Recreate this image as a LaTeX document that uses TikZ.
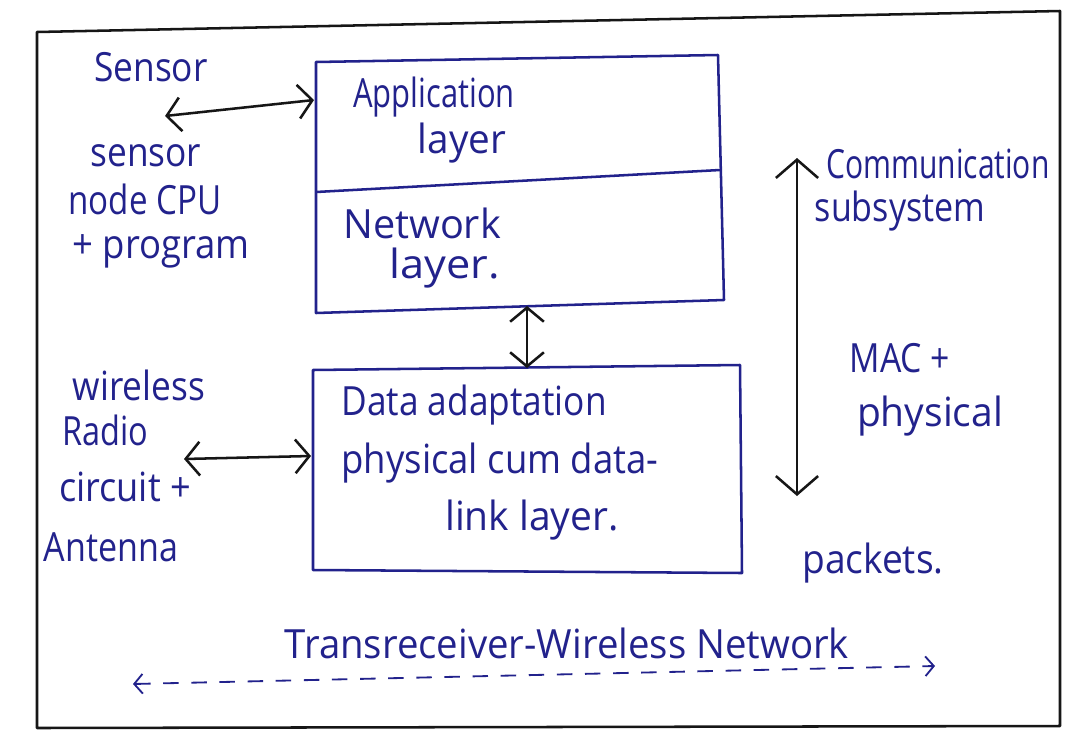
\documentclass[tikz,border=0pt]{standalone}
\usepackage{fontspec}
\usepackage{graphicx}
\setmainfont{Open Sans}
\usetikzlibrary{arrows.meta}
\definecolor{ink}{RGB}{34,34,140}
\definecolor{pencil}{RGB}{22,22,22}
% tall handwriting-like lettering, optional horizontal stretch
\newcommand{\hw}[2][1]{\scalebox{#1}[1.3]{#2}}
\begin{document}
\begin{tikzpicture}[x=0.025cm,y=-0.025cm,
  hand/.style={text=ink,font=\fontsize{22}{26}\selectfont,inner sep=0pt},
  frameline/.style={draw=pencil,line width=1.8pt,line join=round},
  boxline/.style={draw=ink,line width=1.8pt,line join=round},
  link/.style={draw=pencil,line width=1.8pt,{Straight Barb[length=10pt,width=24pt]}-{Straight Barb[length=10pt,width=24pt]}},
  biglink/.style={draw=pencil,line width=1.8pt,{Straight Barb[length=13pt,width=30pt]}-{Straight Barb[length=13pt,width=30pt]}},
  dashlink/.style={draw=ink,line width=1.3pt,dash pattern=on 11pt off 9pt,
    {Straight Barb[length=6pt,width=14pt]}-{Straight Barb[length=6pt,width=14pt]}}]
\useasboundingbox (0,0) rectangle (1072,731);
\fill[white] (0,0) rectangle (1072,731);

% outer frame
\draw[frameline] (37,32) -- (1060,11) -- (1060,726) -- (37,728) -- cycle;

% protocol stack boxes
\draw[boxline] (316,62) -- (718,55) -- (724,300) -- (316,313) -- cycle;
\draw[boxline] (316,192) -- (720,170);
\draw[boxline] (313,370) -- (740,365) -- (742,573) -- (313,570) -- cycle;

% connector end points on the box sides
\coordinate (appL) at (314,100);
\coordinate (senT) at (165,116);
\coordinate (dllL) at (311,456);
\coordinate (radT) at (184,459);
\coordinate (netB) at (527,306);
\coordinate (dllT) at (527,368);
\coordinate (comT) at (797,158);
\coordinate (comB) at (797,496);
\coordinate (wnL) at (133,684);
\coordinate (wnR) at (935,666);

% texts
\node[hand] (sensor) at (151,67) {\hw[1.14]{Sensor}};
\node[hand] (cpuA) at (146,156) {\hw[1.14]{sensor}};
\node[hand] (cpuB) at (145,199) {\hw[1.07]{node CPU}};
\node[hand] (cpuC) at (161,251) {\hw[1.18]{+ program}};

\node[hand] (appA) at (434,97) {\hw{Application}};
\node[hand] (appB) at (462,143) {\hw[1.25]{layer}};
\node[hand] (netA) at (422,223) {\hw[1.28]{Network}};
\node[hand] (netC) at (445,268) {\hw[1.4]{layer.}};

\node[hand] (radA) at (139,385) {\hw[1.14]{wireless}};
\node[hand] (radB) at (105,430) {\hw[1.05]{Radio}};
\node[hand] (radC) at (125,487) {\hw[1.17]{circuit +}};
\node[hand] (radD) at (111,547) {\hw[1.1]{Antenna}};

\node[hand] (dllA) at (474,405) {\hw[1.14]{Data adaptation}};
\node[hand] (dllB) at (500,463) {\hw[1.18]{physical cum data-}};
\node[hand] (dllC) at (532,520) {\hw[1.26]{link layer.}};

\node[hand] (comA) at (938,164) {\hw[0.97]{Communication}};
\node[hand] (comC) at (900,211) {\hw[1.1]{subsystem}};
\node[hand] (macA) at (900,358) {\hw[1.09]{MAC +}};
\node[hand] (macB) at (930,416) {\hw[1.26]{physical}};
\node[hand] (pkt) at (873,563) {\hw[1.2]{packets.}};

\node[hand] (wnet) at (567,643) {\hw[1.24]{Transreceiver-Wireless Network}};

% connectors
\draw[link] (senT) -- (appL);
\draw[link] (radT) -- (dllL);
\draw[link] (netB) -- (dllT);
\draw[biglink] (comT) -- (comB);
\draw[dashlink] (wnL) -- (wnR);
\end{tikzpicture}
\end{document}
